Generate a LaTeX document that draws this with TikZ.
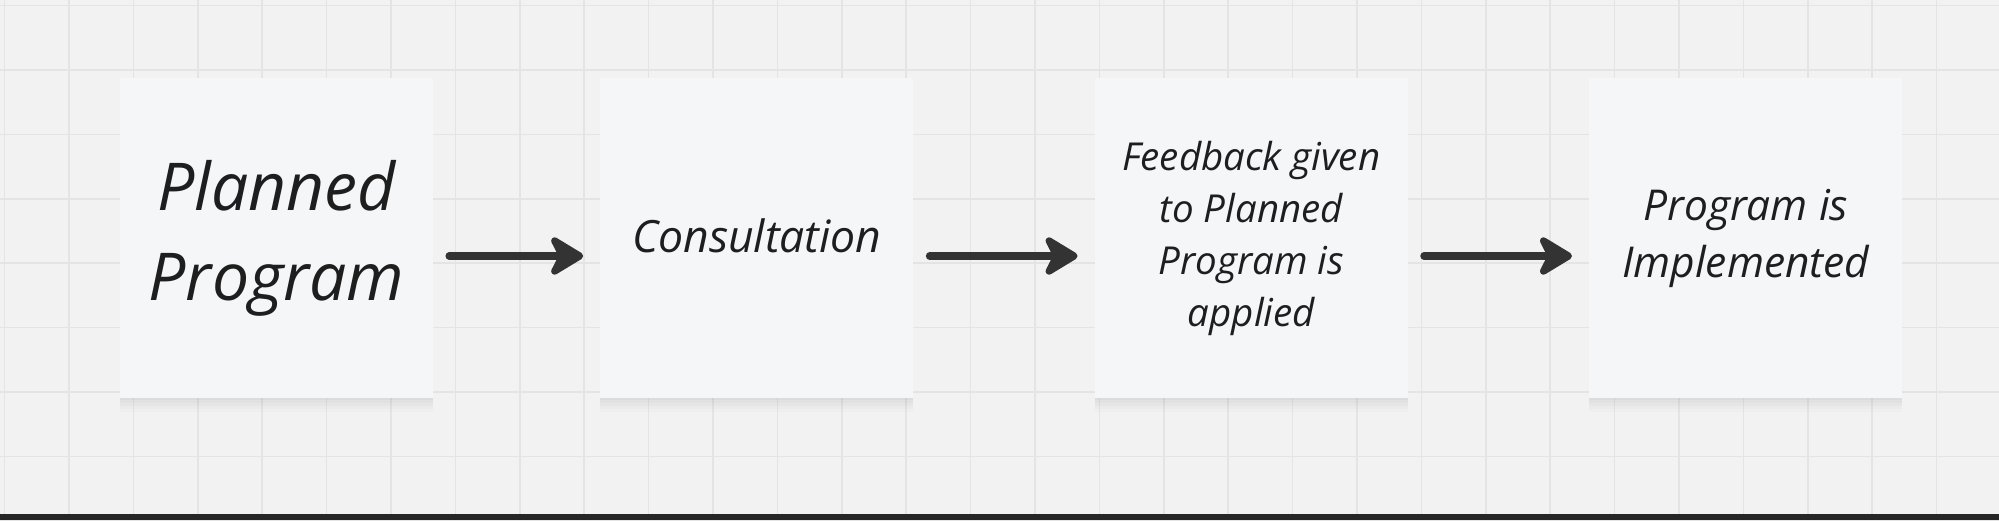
\documentclass[tikz,border=0pt]{standalone}
\usepackage{fontspec}
\setsansfont{Open Sans}
\usepackage{tikz}
\usetikzlibrary{positioning, arrows.meta, shadows}

\definecolor{boardbg}{HTML}{F2F2F2}
\definecolor{gridgray}{HTML}{E4E4E4}
\definecolor{notefill}{HTML}{F5F6F8}
\definecolor{inkgray}{HTML}{1E1E1E}
\definecolor{arrowgray}{HTML}{333333}

\tikzset{
    note/.style={fill=notefill,
        minimum width=313pt,
        minimum height=320pt,
        align=center,
        text=inkgray,
        drop shadow={shadow xshift=0pt, shadow yshift=-2pt, opacity=0.05},
        drop shadow={shadow xshift=0pt, shadow yshift=-5pt, opacity=0.05},
        drop shadow={shadow xshift=0pt, shadow yshift=-8pt, opacity=0.04},
        drop shadow={shadow xshift=0pt, shadow yshift=-11pt, opacity=0.03},
        drop shadow={shadow xshift=0pt, shadow yshift=-14pt, opacity=0.02}},
    flow/.style={line width=7.5pt, arrowgray, line cap=round,
        -{Stealth[length=40pt, width=48pt, inset=12pt, round]},
        shorten <=16pt, shorten >=17pt}
}

\begin{document}
\begin{tikzpicture}[x=1pt, y=-1pt]

        % Board
        \useasboundingbox (0,0) rectangle (1999,520);
        \fill[boardbg] (0,0) rectangle (1999,520);
        \foreach \gx in {0,...,31}
            \draw[gridgray, line width=1.5pt] ({4.6+64.4*\gx},0) -- ++(0,520);
        \foreach \gy in {0,...,8}
            \draw[gridgray, line width=1.5pt] (0,{5.6+64.4*\gy}) -- ++(1999,0);
        \fill[black!85] (0,514) rectangle (1999,520);

        % Notes

        \node [note,
        font=\sffamily\itshape\fontsize{66}{90}\selectfont
            ] (plan) at (276.5,238) {Planned\\Program};

        \node [note,
        font=\sffamily\itshape\fontsize{44.5}{60}\selectfont,
        right=167pt of plan
            ] (consult) {\raisebox{5pt}{Consultation}};

        \node [note,
        font=\sffamily\itshape\fontsize{38.5}{52}\selectfont,
        right=181pt of consult
            ] (feedback) {Feedback given\\to Planned\\Program is\\applied};

        \node [note,
        font=\sffamily\itshape\fontsize{42.5}{57}\selectfont,
        right=181pt of feedback
            ] (done) {Program is\\Implemented};

        % Arrows

        \draw[flow] ([yshift=-18pt]plan.east) -- ([yshift=-18pt]consult.west);

        \draw[flow] ([yshift=-18pt]consult.east) -- ([yshift=-18pt]feedback.west);

        \draw[flow] ([yshift=-18pt]feedback.east) -- ([yshift=-18pt]done.west);
        \end{tikzpicture}
\end{document}
